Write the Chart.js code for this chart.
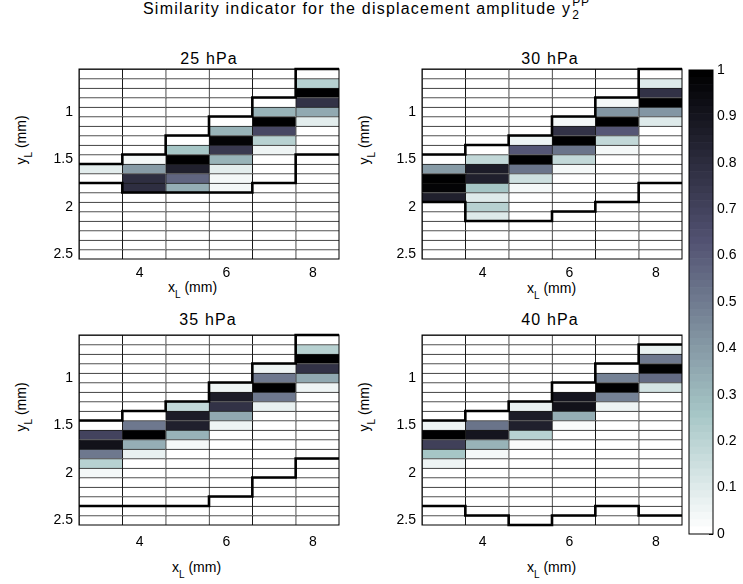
<!DOCTYPE html>
<html>
<head>
<meta charset="utf-8">
<script src="https://cdn.jsdelivr.net/npm/chart.js@4.4.1/dist/chart.umd.min.js"></script>
<style>
html,body{margin:0;padding:0;background:#fff;}
body{width:743px;height:584px;position:relative;overflow:hidden;font-family:"Liberation Sans",Arial,Helvetica,sans-serif;color:#000;}
canvas{position:absolute;}
.txt{position:absolute;white-space:nowrap;line-height:1;}
.ttl{font-size:16px;letter-spacing:1.2px;}
.ptl{font-size:16px;letter-spacing:1.1px;transform:translateX(-50%);}
.axl{font-size:14px;}
.axl sub{font-size:10px;vertical-align:-6px;line-height:0;}
.yl{font-size:14px;transform:translate(-50%,-50%) rotate(-90deg);}
.yl sub{font-size:10px;vertical-align:-6px;line-height:0;}
.stack{display:inline-block;position:relative;width:24px;height:10px;}
.stack span{position:absolute;left:1px;font-size:12px;line-height:12px;letter-spacing:0.8px;}
.stack .sp{top:-8px;}
.stack .sb{top:5px;}
</style>
</head>
<body>
<div class="txt ttl" style="left:143px;top:1px;">Similarity indicator for the displacement amplitude y<span class="stack"><span class="sp">PP</span><span class="sb">2</span></span></div>

<div class="txt ptl" id="t1" style="left:209px;top:51px;">25 hPa</div>
<div class="txt ptl" id="t2" style="left:550px;top:51px;">30 hPa</div>
<div class="txt ptl" id="t3" style="left:208px;top:312px;">35 hPa</div>
<div class="txt ptl" id="t4" style="left:550px;top:312px;">40 hPa</div>

<div class="txt axl" style="left:168px;top:280px;">x<sub>L</sub> (mm)</div>
<div class="txt axl" style="left:527px;top:281px;">x<sub>L</sub> (mm)</div>
<div class="txt axl" style="left:172px;top:560px;">x<sub>L</sub> (mm)</div>
<div class="txt axl" style="left:527px;top:560px;">x<sub>L</sub> (mm)</div>

<div class="txt yl" style="left:21px;top:140px;">y<sub>L</sub> (mm)</div>
<div class="txt yl" style="left:364px;top:140px;">y<sub>L</sub> (mm)</div>
<div class="txt yl" style="left:21px;top:407px;">y<sub>L</sub> (mm)</div>
<div class="txt yl" style="left:364px;top:407px;">y<sub>L</sub> (mm)</div>

<canvas id="c1"></canvas>
<canvas id="c2"></canvas>
<canvas id="c3"></canvas>
<canvas id="c4"></canvas>
<canvas id="cb"></canvas>

<script>
// ---------------- DATA ----------------
// column edges / centres along x_L (mm)
const xEdges   = [2.6, 3.6, 4.6, 5.6, 6.6, 7.6, 8.6];
const xCenters = [3.1, 4.1, 5.1, 6.1, 7.1, 8.1];
// row edges along y_L (mm), 20 rows
const yEdges = [0.55, 0.65, 0.75, 0.85, 0.95, 1.05, 1.15, 1.25, 1.35, 1.45, 1.55,
                1.65, 1.75, 1.85, 1.95, 2.05, 2.15, 2.25, 2.35, 2.45, 2.55];
const xTicks = [4, 6, 8];
const xTickLabels = ['4', '6', '8'];
const yTicks = [1, 1.5, 2, 2.5];
const yTickLabels = ['1', '1.5', '2', '2.5'];
const cbTicks = [0, 0.1, 0.2, 0.3, 0.4, 0.5, 0.6, 0.7, 0.8, 0.9, 1];
const cbTickLabels = ['0', '0.1', '0.2', '0.3', '0.4', '0.5', '0.6', '0.7', '0.8', '0.9', '1'];
const panelTitles = ['25 hPa', '30 hPa', '35 hPa', '40 hPa'];

// similarity values: one row per y row (top to bottom), 6 columns (x)
const sim25 = [
  [0, 0, 0, 0, 0, 0],
  [0, 0, 0, 0, 0, 0.20],
  [0, 0, 0, 0, 0, 1.00],
  [0, 0, 0, 0, 0, 0.78],
  [0, 0, 0, 0, 0.32, 0.35],
  [0, 0, 0, 0, 1.00, 0.08],
  [0, 0, 0, 0.32, 0.68, 0],
  [0, 0, 0, 0.98, 0.20, 0],
  [0, 0, 0.25, 0.75, 0.04, 0],
  [0, 0.03, 1.00, 0.32, 0, 0],
  [0.08, 0.40, 0.86, 0.08, 0, 0],
  [0, 0.80, 0.57, 0.03, 0, 0],
  [0, 0.80, 0.33, 0.03, 0, 0],
  [0, 0, 0, 0, 0, 0],
  [0, 0, 0, 0, 0, 0],
  [0, 0, 0, 0, 0, 0],
  [0, 0, 0, 0, 0, 0],
  [0, 0, 0, 0, 0, 0],
  [0, 0, 0, 0, 0, 0],
  [0, 0, 0, 0, 0, 0]
];
const sim30 = [
  [0, 0, 0, 0, 0, 0],
  [0, 0, 0, 0, 0, 0.10],
  [0, 0, 0, 0, 0, 0.78],
  [0, 0, 0, 0, 0.03, 1.00],
  [0, 0, 0, 0, 0.42, 0.42],
  [0, 0, 0, 0.03, 1.00, 0.10],
  [0, 0, 0, 0.78, 0.62, 0],
  [0, 0, 0.04, 1.00, 0.18, 0],
  [0, 0, 0.62, 0.52, 0.03, 0],
  [0, 0.18, 1.00, 0.18, 0, 0],
  [0.40, 0.87, 0.52, 0.03, 0, 0],
  [1.00, 0.85, 0.15, 0, 0, 0],
  [0.98, 0.25, 0.03, 0, 0, 0],
  [0.85, 0.10, 0, 0, 0, 0],
  [0, 0.20, 0, 0, 0, 0],
  [0, 0.10, 0, 0, 0, 0],
  [0, 0, 0, 0, 0, 0],
  [0, 0, 0, 0, 0, 0],
  [0, 0, 0, 0, 0, 0],
  [0, 0, 0, 0, 0, 0]
];
const sim35 = [
  [0, 0, 0, 0, 0, 0],
  [0, 0, 0, 0, 0, 0.20],
  [0, 0, 0, 0, 0, 1.00],
  [0, 0, 0, 0, 0.04, 0.78],
  [0, 0, 0, 0, 0.50, 0.35],
  [0, 0, 0, 0.04, 1.00, 0.04],
  [0, 0, 0, 0.88, 0.50, 0],
  [0, 0, 0.18, 0.78, 0.07, 0],
  [0, 0, 0.88, 0.35, 0, 0],
  [0, 0.50, 0.85, 0.04, 0, 0],
  [0.70, 1.00, 0.32, 0, 0, 0],
  [0.92, 0.33, 0.03, 0, 0, 0],
  [0.50, 0.07, 0, 0, 0, 0],
  [0.20, 0, 0, 0, 0, 0],
  [0.03, 0, 0, 0, 0, 0],
  [0, 0, 0, 0, 0, 0],
  [0, 0, 0, 0, 0, 0],
  [0, 0, 0, 0, 0, 0],
  [0, 0, 0, 0, 0, 0],
  [0, 0, 0, 0, 0, 0]
];
const sim40 = [
  [0, 0, 0, 0, 0, 0],
  [0, 0, 0, 0, 0, 0.07],
  [0, 0, 0, 0, 0, 0.50],
  [0, 0, 0, 0, 0, 1.00],
  [0, 0, 0, 0, 0.48, 0.55],
  [0, 0, 0, 0, 1.00, 0.12],
  [0, 0, 0, 0.90, 0.48, 0],
  [0, 0, 0.06, 0.92, 0.04, 0],
  [0, 0, 0.88, 0.33, 0, 0],
  [0.05, 0.52, 0.86, 0.02, 0, 0],
  [1.00, 0.90, 0.20, 0, 0, 0],
  [0.72, 0.32, 0.02, 0, 0, 0],
  [0.25, 0.03, 0, 0, 0, 0],
  [0.05, 0, 0, 0, 0, 0],
  [0, 0, 0, 0, 0, 0],
  [0, 0, 0, 0, 0, 0],
  [0, 0, 0, 0, 0, 0],
  [0, 0, 0, 0, 0, 0],
  [0, 0, 0, 0, 0, 0],
  [0, 0, 0, 0, 0, 0]
];
// thick outline: index into yEdges of the upper / lower boundary for each column
const top25 = [10, 9, 7, 5, 3, 0];
const bot25 = [12, 13, 13, 13, 12, 9];
const top30 = [9, 8, 7, 5, 3, 0];
const bot30 = [14, 16, 16, 15, 14, 12];
const top35 = [9, 8, 7, 5, 3, 0];
const bot35 = [18, 18, 18, 17, 15, 13];
const top40 = [9, 8, 7, 5, 3, 1];
const bot40 = [18, 19, 20, 19, 18, 19];

// ---------------- STYLE / LAYOUT ----------------
const FONT = '"Liberation Sans", Arial, Helvetica, sans-serif';
const YW = 45, PR = 6, PT = 6, XH = 40, TICK = -4;
const panels = [
  {id: 'c1', L: 79,  T: 69,  W: 260, H: 190, sim: sim25, top: top25, bot: bot25, xpad: 6},
  {id: 'c2', L: 422, T: 69,  W: 260, H: 190, sim: sim30, top: top30, bot: bot30, xpad: 6},
  {id: 'c3', L: 79,  T: 335, W: 260, H: 190, sim: sim35, top: top35, bot: bot35, xpad: 9},
  {id: 'c4', L: 422, T: 335, W: 260, H: 190, sim: sim40, top: top40, bot: bot40, xpad: 9}
];

// reversed MATLAB "bone" colormap, 64 levels
function boneRev(v) {
  const j = Math.round(Math.max(0, Math.min(1, v)) * 63);
  const i = 64 - j;
  const gray = (i - 1) / 63;
  const hr = Math.min(1, i / 24);
  const hg = Math.max(0, Math.min(1, (i - 24) / 24));
  const hb = Math.max(0, (i - 48) / 16);
  const R = (7 * gray + hb) / 8, G = (7 * gray + hg) / 8, B = (7 * gray + hr) / 8;
  return 'rgb(' + Math.round(R * 255) + ',' + Math.round(G * 255) + ',' + Math.round(B * 255) + ')';
}

const framePlugin = {
  id: 'frame',
  afterDraw(chart) {
    const a = chart.chartArea, ctx = chart.ctx;
    ctx.save();
    ctx.strokeStyle = '#000';
    ctx.lineWidth = 1;
    ctx.strokeRect(a.left, a.top, a.right - a.left, a.bottom - a.top);
    ctx.restore();
  }
};

function noPad(s) { s.paddingTop = 0; s.paddingBottom = 0; s.paddingLeft = 0; s.paddingRight = 0; }

function outline(edgeIdx) {
  const pts = edgeIdx.map((k, c) => ({x: xEdges[c], y: yEdges[k]}));
  pts.push({x: xEdges[xEdges.length - 1], y: yEdges[edgeIdx[edgeIdx.length - 1]]});
  return pts;
}

const tickGrid = {display: true, drawOnChartArea: false, drawTicks: true, tickLength: TICK,
                  color: '#000', lineWidth: 1};

panels.forEach(p => {
  const cv = document.getElementById(p.id);
  const cw = YW + p.W + PR, ch = PT + p.H + XH;
  cv.width = cw; cv.height = ch;
  cv.style.left = (p.L - YW) + 'px';
  cv.style.top = (p.T - PT) + 'px';
  cv.style.width = cw + 'px'; cv.style.height = ch + 'px';

  const cells = [], colors = [];
  p.sim.forEach((row, r) => row.forEach((v, c) => {
    cells.push({x: xCenters[c], y: [yEdges[r], yEdges[r + 1]]});
    colors.push(boneRev(v));
  }));

  const lineStyle = {type: 'line', borderColor: '#000', borderWidth: 2.6, pointRadius: 0,
                     stepped: true, fill: false, order: 0, clip: 3, tension: 0};

  new Chart(cv, {
    type: 'bar',
    data: {
      datasets: [
        {type: 'bar', data: cells, backgroundColor: colors, borderColor: '#1a1a1a',
         borderWidth: {top: 1, left: 1, right: 0, bottom: 0}, borderSkipped: false,
         categoryPercentage: 1, barPercentage: 1, grouped: false, order: 1},
        Object.assign({data: outline(p.top)}, lineStyle),
        Object.assign({data: outline(p.bot)}, lineStyle)
      ]
    },
    options: {
      responsive: false, animation: false, events: [],
      layout: {padding: {left: 0, right: PR, top: PT, bottom: 0}, autoPadding: false},
      plugins: {legend: {display: false}, tooltip: {enabled: false}, title: {display: false}},
      scales: {
        x: {
          type: 'linear', min: xEdges[0], max: xEdges[xEdges.length - 1], offset: false,
          afterBuildTicks: s => { s.ticks = xTicks.map(v => ({value: v})); },
          afterFit: s => { s.height = XH; noPad(s); },
          ticks: {callback: (v, i) => xTickLabels[i], color: '#000', padding: p.xpad - TICK,
                  maxRotation: 0, autoSkip: false, font: {family: FONT, size: 14}},
          grid: tickGrid, border: {display: false}
        },
        y: {
          type: 'linear', reverse: true, min: yEdges[0], max: yEdges[yEdges.length - 1],
          afterBuildTicks: s => { s.ticks = yTicks.map(v => ({value: v})); },
          afterFit: s => { s.width = YW; noPad(s); },
          ticks: {callback: (v, i) => yTickLabels[i], color: '#000', padding: 6 - TICK,
                  autoSkip: false, font: {family: FONT, size: 14}},
          grid: tickGrid, border: {display: false}
        }
      }
    },
    plugins: [framePlugin]
  });
});

// ---------------- COLOURBAR ----------------
(function () {
  const L = 689, T = 70, W = 24, H = 464;
  const padL = 1, padT = 8, padB = 12, axW = 40;
  const cv = document.getElementById('cb');
  const cw = padL + W + axW, ch = padT + H + padB;
  cv.width = cw; cv.height = ch;
  cv.style.left = (L - padL) + 'px'; cv.style.top = (T - padT) + 'px';
  cv.style.width = cw + 'px'; cv.style.height = ch + 'px';
  const nLev = 64;
  const levels = [];
  for (let k = 0; k < nLev; k++) levels.push(k);
  new Chart(cv, {
    type: 'bar',
    data: {
      labels: ['cb'],
      datasets: levels.map(k => ({
        data: [[k / nLev, (k + 1) / nLev]], backgroundColor: boneRev(k / (nLev - 1)),
        borderWidth: 0, grouped: false, categoryPercentage: 1, barPercentage: 1
      }))
    },
    options: {
      responsive: false, animation: false, events: [],
      layout: {padding: {left: padL, right: 0, top: padT, bottom: padB}, autoPadding: false},
      plugins: {legend: {display: false}, tooltip: {enabled: false}},
      scales: {
        x: {display: false},
        y: {
          position: 'right', min: 0, max: 1,
          afterBuildTicks: s => { s.ticks = cbTicks.map(v => ({value: v})); },
          afterFit: s => { s.width = axW; noPad(s); },
          ticks: {callback: (v, i) => cbTickLabels[i], color: '#000', padding: 4 - TICK,
                  autoSkip: false, font: {family: FONT, size: 14}},
          grid: tickGrid, border: {display: false}
        }
      }
    },
    plugins: [framePlugin]
  });
})();
</script>
</body>
</html>
